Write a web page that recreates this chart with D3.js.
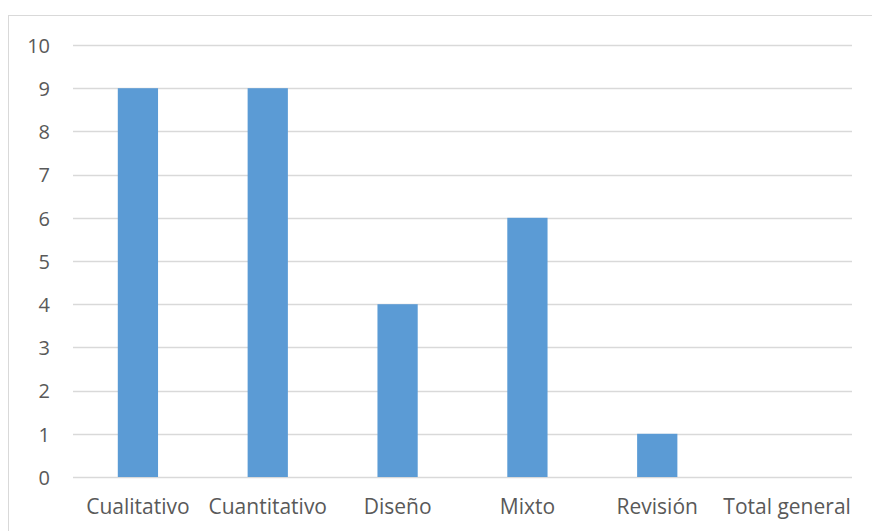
<!DOCTYPE html>
<html>
<head>
<meta charset="utf-8">
<script src="https://cdn.jsdelivr.net/npm/d3@7"></script>
<style>
  body { margin: 0; background: #fff; }
  svg text { font-family: "Open Sans", sans-serif; fill: #595959; }
</style>
</head>
<body>
<svg id="chart" width="872" height="531"></svg>
<script>
const categories = ["Cualitativo", "Cuantitativo", "Diseño", "Mixto", "Revisión", "Total general"];
const values = [9, 9, 4, 6, 1, 0];
const yTicks = [0, 1, 2, 3, 4, 5, 6, 7, 8, 9, 10];

const svg = d3.select("#chart"),
    margin = { top: 45, right: 20, bottom: 54, left: 73 },
    width = 852 - margin.left,
    height = 477 - margin.top;

// outer chart border
svg.append("rect")
    .attr("x", 8.5).attr("y", 15.5)
    .attr("width", 870).attr("height", 530)
    .attr("fill", "none")
    .attr("stroke", "#d9d9d9");

const g = svg.append("g").attr("transform", `translate(${margin.left},${margin.top})`);

const x = d3.scaleBand().domain(categories).range([0, width]).paddingInner(0.69).paddingOuter(0.345);
const y = d3.scaleLinear().domain([0, 10]).range([height, 0]);

// gridlines
g.selectAll("line.grid")
    .data(yTicks)
    .enter().append("line")
    .attr("class", "grid")
    .attr("x1", 0).attr("x2", width)
    .attr("y1", d => Math.round(y(d)) + 0.5)
    .attr("y2", d => Math.round(y(d)) + 0.5)
    .attr("stroke", "#d9d9d9")
    .attr("stroke-width", 1.3);

// Y-axis labels
const yAxis = g.append("g").call(d3.axisLeft(y).tickValues(yTicks).tickSize(0).tickPadding(23));
yAxis.select(".domain").remove();
yAxis.selectAll("text").style("font-size", "20px").attr("dy", "0.36em");

// X-axis labels
const xAxis = g.append("g")
    .attr("transform", `translate(0,${height})`)
    .call(d3.axisBottom(x).tickSize(0).tickPadding(22));
xAxis.select(".domain").remove();
xAxis.selectAll("text").style("font-size", "21px");

g.selectAll("rect.bar")
    .data(values)
    .enter().append("rect")
    .attr("class", "bar")
    .attr("x", (d, i) => x(categories[i]))
    .attr("y", d => y(d))
    .attr("width", x.bandwidth())
    .attr("height", d => height - y(d))
    .attr("fill", "#5b9bd5");
</script>
</body>
</html>
